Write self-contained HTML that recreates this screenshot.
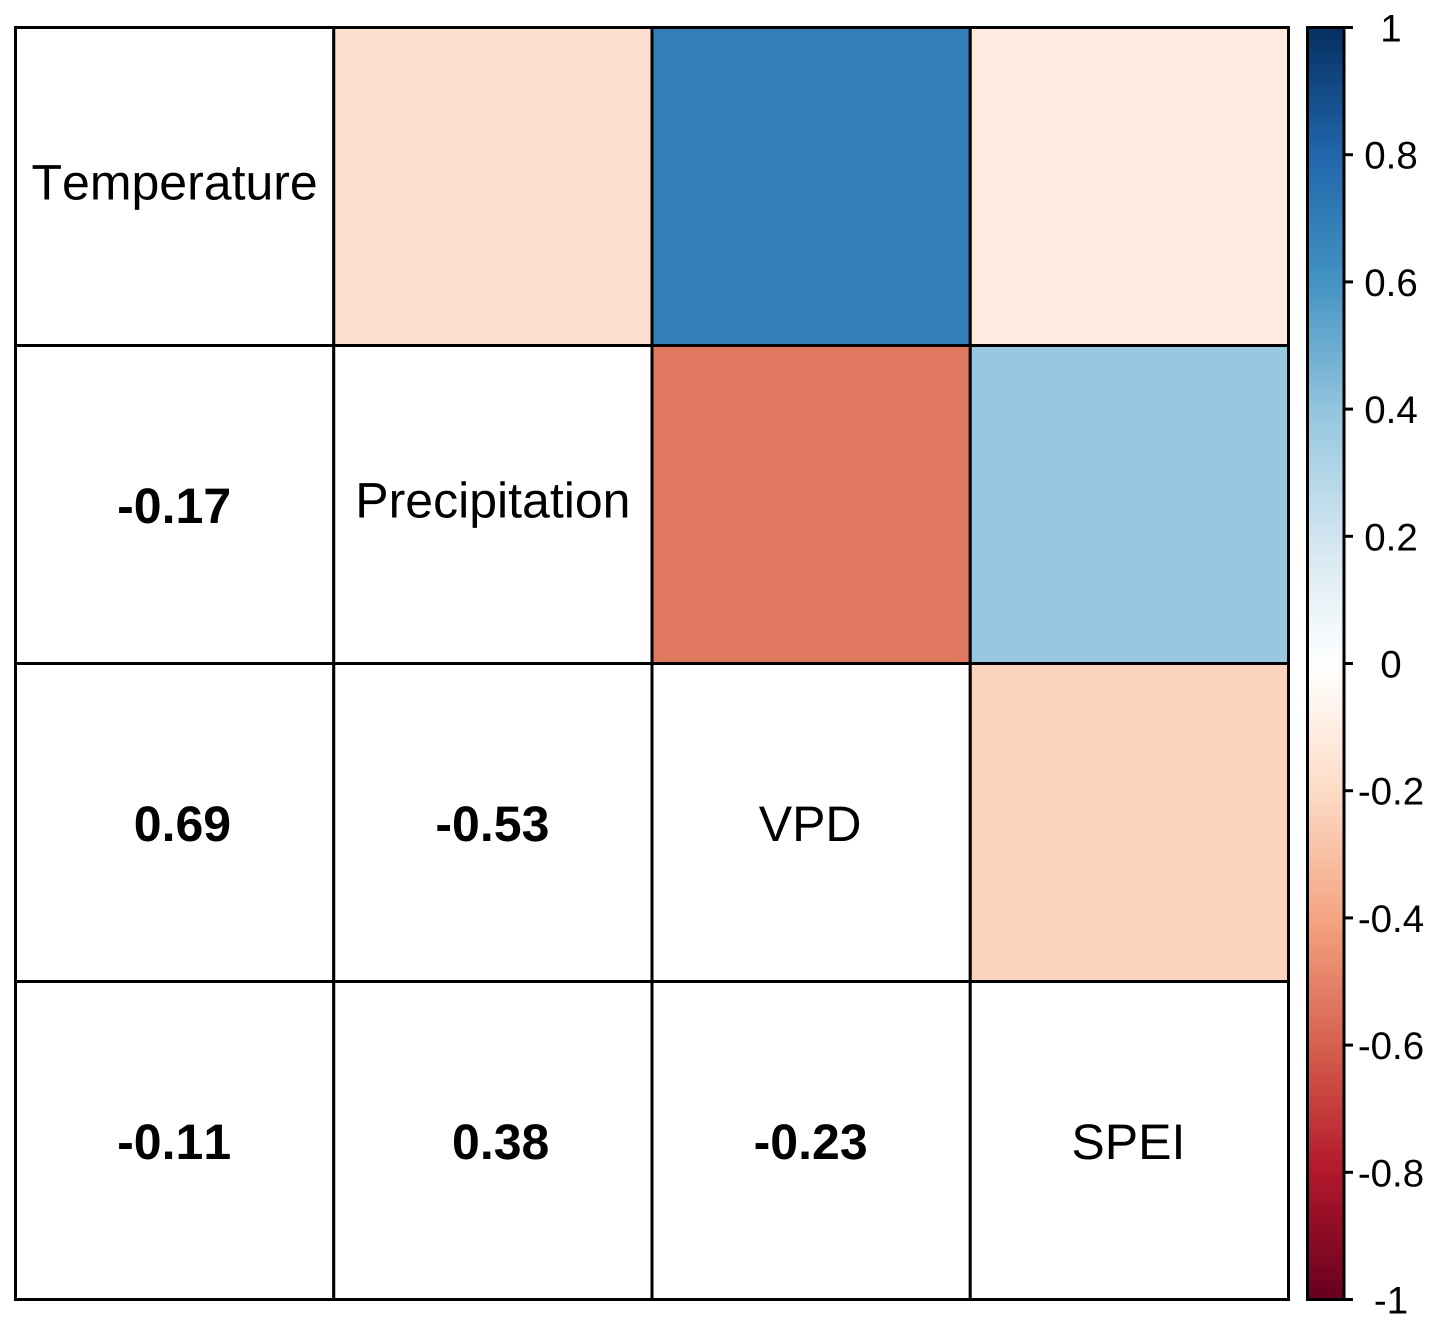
<!DOCTYPE html>
<html lang="en">
<head>
<meta charset="utf-8">
<title>Correlation matrix</title>
<style>
html,body{margin:0;padding:0;background:#fff;width:1438px;height:1329px;overflow:hidden}
svg{display:block;font-family:"Liberation Sans",sans-serif}
svg text{font-kerning:none;font-feature-settings:"kern" 0;text-rendering:geometricPrecision}
</style>
</head>
<body>
<svg id="chart" xmlns="http://www.w3.org/2000/svg" width="1438" height="1329" viewBox="0 0 1438 1329"></svg>
<script>
const variables = ["Temperature", "Precipitation", "VPD", "SPEI"];
const correlations = [
  [1, -0.17, 0.69, -0.11],
  [-0.17, 1, -0.53, 0.38],
  [0.69, -0.53, 1, -0.23],
  [-0.11, 0.38, -0.23, 1]
];
const colorStops = ["#67001F","#B2182B","#D6604D","#F4A582","#FDDBC7","#FFFFFF","#D1E5F0","#92C5DE","#4393C3","#2166AC","#053061"];
const scaleTicks = [1, 0.8, 0.6, 0.4, 0.2, 0, -0.2, -0.4, -0.6, -0.8, -1];
const bandCount = 200;

const NS = "http://www.w3.org/2000/svg";
const svg = document.getElementById("chart");
const gridLeft = 15.5, gridRight = 1288.5, gridTop = 27.5, gridBottom = 1299.5;
const barLeft = 1307.5, barRight = 1344, barTickEnd = 1353, tickLabelX = 1391;

function xCol(i) { return gridLeft + (gridRight - gridLeft) * i / variables.length; }
function yRow(i) { return gridTop + (gridBottom - gridTop) * i / variables.length; }
function yScale(v) { return gridTop + (1 - v) / 2 * (gridBottom - gridTop); }
function hexToRgb(h) { return [1, 3, 5].map(function (p) { return parseInt(h.substr(p, 2), 16); }); }
function colorFor(v) {
  const t = Math.max(0, Math.min(1, (v + 1) / 2)) * (colorStops.length - 1);
  const i = Math.min(Math.floor(t), colorStops.length - 2);
  const a = hexToRgb(colorStops[i]), b = hexToRgb(colorStops[i + 1]), f = t - i;
  return "rgb(" + a.map(function (c, k) { return Math.round(c + (b[k] - c) * f); }).join(",") + ")";
}
function make(tag, attrs, parent) {
  const el = document.createElementNS(NS, tag);
  Object.keys(attrs).forEach(function (k) { el.setAttribute(k, attrs[k]); });
  parent.appendChild(el);
  return el;
}
function fmt(v) { return v.toFixed(2); }

/* matrix cells */
variables.forEach(function (rowName, r) {
  variables.forEach(function (colName, c) {
    const x = xCol(c), y = yRow(r), w = xCol(c + 1) - x, h = yRow(r + 1) - y;
    const v = correlations[r][c];
    const cell = make("rect", { x: x, y: y, width: w, height: h, fill: c > r ? colorFor(v) : "#fff", stroke: "#000", "stroke-width": 3 }, svg);
    
    
  });
});

/* diagonal labels and lower-triangle values */
variables.forEach(function (rowName, r) {
  variables.forEach(function (colName, c) {
    const cx = (xCol(c) + xCol(c + 1)) / 2, cy = (yRow(r) + yRow(r + 1)) / 2;
    if (r === c) {
      const hasDescender = /[gjpqy]/.test(rowName);
      const label = make("text", { x: cx - (c >= 2 ? 1 : 0), y: cy + (hasDescender ? 13 : 18.5), "font-size": 50, "text-anchor": "middle", fill: "#000" }, svg);
      label.textContent = rowName;
      
      
    } else if (c < r) {
      const value = make("text", { x: cx + 56.5, y: cy + 18.5, "font-size": 50, "font-weight": "bold", "text-anchor": "end", fill: "#000" }, svg);
      value.textContent = fmt(correlations[r][c]);
      
      
    }
  });
});

/* colour bar */
const bar = make("g", {}, svg);


for (let i = 0; i < bandCount; i++) {
  const vTop = 1 - 2 * i / bandCount, vBottom = 1 - 2 * (i + 1) / bandCount;
  const band = make("rect", { x: barLeft, y: yScale(vTop), width: barRight - barLeft, height: yScale(vBottom) - yScale(vTop) + 0.5, fill: colorFor((vTop + vBottom) / 2), "shape-rendering": "crispEdges" }, bar);
  
  
}
const barFrame = make("rect", { x: barLeft, y: gridTop, width: barRight - barLeft, height: gridBottom - gridTop, fill: "none", stroke: "#000", "stroke-width": 3 }, svg);



scaleTicks.forEach(function (v) {
  const y = yScale(v);
  const tick = make("line", { x1: barRight, x2: barTickEnd, y1: y, y2: y, stroke: "#000", "stroke-width": 3 }, svg);
  
  
  const label = make("text", { x: tickLabelX, y: y + 14, "font-size": 38.5, "text-anchor": "middle", fill: "#000" }, svg);
  label.textContent = String(v);
  
  
});
</script>
</body>
</html>
